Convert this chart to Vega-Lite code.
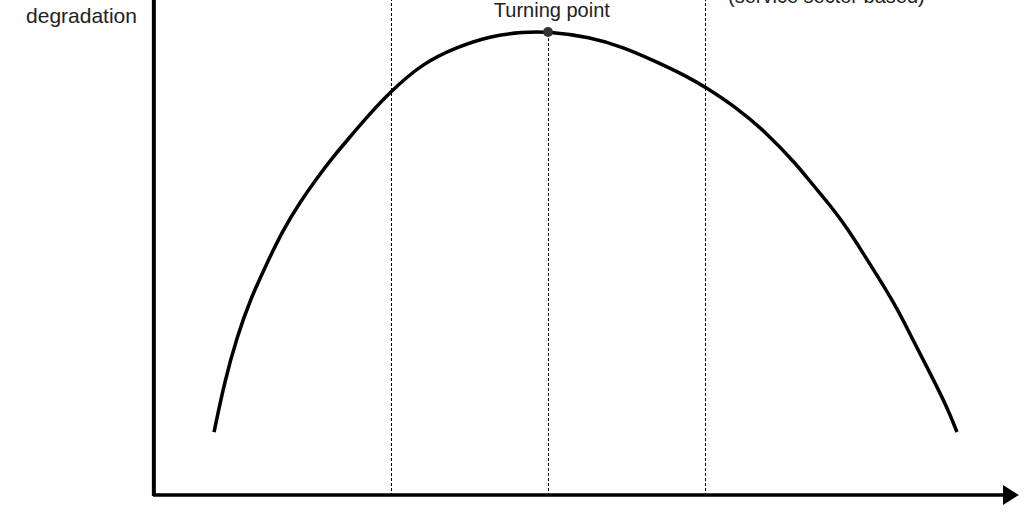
{
  "$schema": "https://vega.github.io/schema/vega-lite/v6.json",
  "autosize": {"type": "none"},
  "width": 867,
  "height": 496,
  "padding": {"left": 153, "top": 0, "right": 4, "bottom": 16},
  "background": "#ffffff",
  "datasets": {
    "curve": [
      {"income": 7.04, "degradation": 12.9},
      {"income": 8.3, "degradation": 23.39},
      {"income": 9.69, "degradation": 32.06},
      {"income": 11.19, "degradation": 39.52},
      {"income": 13.15, "degradation": 46.98},
      {"income": 14.99, "degradation": 53.63},
      {"income": 16.96, "degradation": 59.27},
      {"income": 18.92, "degradation": 64.11},
      {"income": 20.76, "degradation": 68.35},
      {"income": 22.72, "degradation": 72.38},
      {"income": 24.68, "degradation": 76.41},
      {"income": 27.34, "degradation": 81.45},
      {"income": 31.14, "degradation": 87.3},
      {"income": 35.06, "degradation": 90.52},
      {"income": 38.87, "degradation": 92.74},
      {"income": 42.68, "degradation": 93.55},
      {"income": 45.56, "degradation": 93.65},
      {"income": 50.4, "degradation": 92.54},
      {"income": 54.21, "degradation": 90.52},
      {"income": 58.13, "degradation": 87.5},
      {"income": 61.94, "degradation": 84.27},
      {"income": 63.67, "degradation": 82.46},
      {"income": 66.9, "degradation": 78.83},
      {"income": 70.82, "degradation": 73.19},
      {"income": 74.28, "degradation": 66.73},
      {"income": 76.12, "degradation": 62.7},
      {"income": 78.09, "degradation": 58.67},
      {"income": 80.05, "degradation": 54.03},
      {"income": 81.89, "degradation": 48.99},
      {"income": 83.85, "degradation": 43.55},
      {"income": 85.81, "degradation": 37.9},
      {"income": 87.66, "degradation": 31.45},
      {"income": 89.62, "degradation": 24.8},
      {"income": 91.58, "degradation": 17.94},
      {"income": 92.73, "degradation": 12.9}
    ],
    "stages": [
      {"income": 27.51, "bottom": 0, "top": 100},
      {"income": 45.62, "bottom": 0, "top": 93.5},
      {"income": 63.73, "bottom": 0, "top": 100}
    ]
  },
  "encoding": {
    "x": {"field": "income", "type": "quantitative", "scale": {"domain": [0, 100], "nice": false, "zero": false}, "axis": null},
    "y": {"field": "degradation", "type": "quantitative", "scale": {"domain": [0, 100], "nice": false, "zero": false}, "axis": null}
  },
  "layer": [
    {
      "data": {"name": "stages"},
      "mark": {"type": "rule", "color": "#000000", "strokeWidth": 1, "strokeDash": [3, 2]},
      "encoding": {
        "y": {"field": "bottom", "type": "quantitative"},
        "y2": {"field": "top"}
      }
    },
    {
      "data": {"name": "curve"},
      "mark": {"type": "line", "color": "#000000", "strokeWidth": 3.5, "interpolate": "basis"},
      "encoding": {}
    },
    {
      "data": {"values": [{"income": 45.56, "degradation": 93.55}]},
      "mark": {"type": "point", "shape": "circle", "filled": true, "color": "#333333", "size": 100, "opacity": 1},
      "encoding": {}
    },
    {
      "data": {"values": [{"income": 0.1, "bottom": 0, "top": 100}]},
      "mark": {"type": "rule", "color": "#000000", "strokeWidth": 4},
      "encoding": {
        "y": {"field": "bottom", "type": "quantitative"},
        "y2": {"field": "top"}
      }
    },
    {
      "data": {"values": [{"start": 0, "end": 98.6, "degradation": 0.2}]},
      "mark": {"type": "rule", "color": "#000000", "strokeWidth": 3.5},
      "encoding": {
        "x": {"field": "start", "type": "quantitative"},
        "x2": {"field": "end"}
      }
    },
    {
      "data": {"values": [{"income": 98.96, "degradation": 0.2}]},
      "mark": {"type": "point", "shape": "M-0.8,-1L0.8,0L-0.8,1Z", "filled": true, "color": "#000000", "size": 400, "opacity": 1},
      "encoding": {}
    },
    {
      "data": {"values": [{"income": -1.85, "degradation": 95.36, "label": "degradation"}]},
      "mark": {"type": "text", "font": "Liberation Sans", "fontSize": 21, "color": "#222222", "baseline": "alphabetic", "align": "right"},
      "encoding": {"text": {"field": "label"}}
    },
    {
      "data": {"values": [{"income": 46.0, "degradation": 96.57, "label": "Turning point"}]},
      "mark": {"type": "text", "font": "Liberation Sans", "fontSize": 20, "color": "#222222", "baseline": "alphabetic", "align": "center"},
      "encoding": {"text": {"field": "label"}}
    },
    {
      "data": {"values": [{"income": 66.32, "degradation": 99.4, "label": "(service sector based)"}]},
      "mark": {"type": "text", "font": "Liberation Sans", "fontSize": 20, "color": "#222222", "baseline": "alphabetic", "align": "left"},
      "encoding": {"text": {"field": "label"}}
    }
  ],
  "config": {
    "view": {"stroke": null}
  }
}
